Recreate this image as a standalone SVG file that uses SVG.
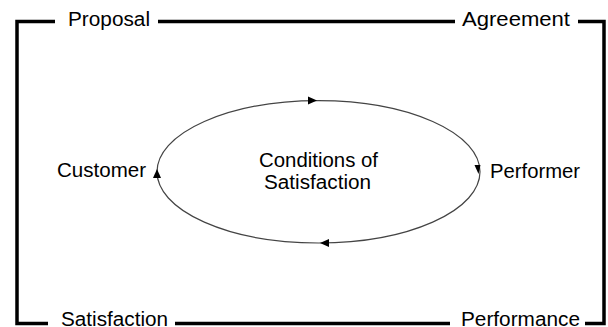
<svg xmlns="http://www.w3.org/2000/svg" width="608" height="327" viewBox="0 0 608 327">
<style>
  .t { font-family: "Liberation Sans", Arial, sans-serif; font-size: 20px; fill: #000; }
  .frame { fill: none; stroke: #000; stroke-width: 3.5; stroke-linecap: butt; }
  .cycle { fill: none; stroke: #444; stroke-width: 1.2; }
  .ah { fill: #000; stroke: none; }
</style>
<rect width="608" height="327" fill="#fff"/>
<g id="connectors">
  <polyline class="frame" points="55,21.5 17,21.5 17,323.5 48,323.5"/>
  <line class="frame" x1="158" y1="21.5" x2="455" y2="21.5"/>
  <polyline class="frame" points="578,21.5 604,21.5 604,323.5 585,323.5"/>
  <line class="frame" x1="175" y1="323.5" x2="450" y2="323.5"/>
  <ellipse class="cycle" cx="318.5" cy="171.8" rx="161.5" ry="71.2"/>
  <polygon class="ah" points="317,100.6 308,96.6 308,104.6"/>
  <polygon class="ah" points="320,243 329,239 329,247"/>
  <polygon class="ah" points="157,169 153,178 161,178"/>
  <polygon class="ah" points="478.5,174 474.5,165 480.5,165"/>
</g>
<g id="proposal"><text class="t" x="68" y="26" textLength="82" lengthAdjust="spacingAndGlyphs">Proposal</text></g>
<g id="agreement"><text class="t" x="462" y="26" textLength="108" lengthAdjust="spacingAndGlyphs">Agreement</text></g>
<g id="satisfaction"><text class="t" x="61" y="325.5" textLength="107" lengthAdjust="spacingAndGlyphs">Satisfaction</text></g>
<g id="performance"><text class="t" x="461" y="325.5" textLength="119" lengthAdjust="spacingAndGlyphs">Performance</text></g>
<g id="customer"><text class="t" x="57" y="177" textLength="89" lengthAdjust="spacingAndGlyphs">Customer</text></g>
<g id="performer"><text class="t" x="490" y="178" textLength="90" lengthAdjust="spacingAndGlyphs">Performer</text></g>
<g id="conditions">
  <text class="t" x="259" y="167" textLength="119" lengthAdjust="spacingAndGlyphs">Conditions of</text>
  <text class="t" x="264" y="189" textLength="107" lengthAdjust="spacingAndGlyphs">Satisfaction</text>
</g>
</svg>
